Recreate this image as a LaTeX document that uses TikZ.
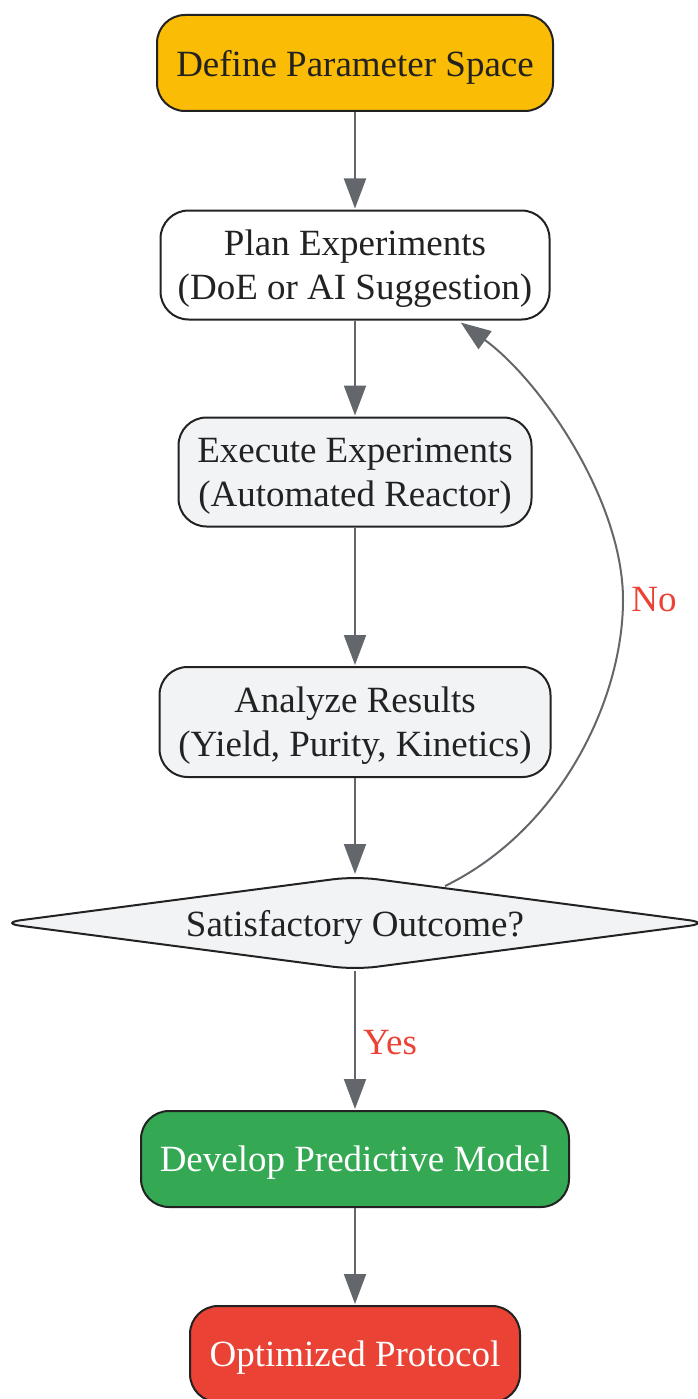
\documentclass[tikz,border=0pt]{standalone}
\usepackage{fontspec}
\setmainfont{Liberation Serif}
\usetikzlibrary{arrows.meta,shapes.geometric}
\definecolor{cyellow}{HTML}{FBBC05}
\definecolor{cgreen}{HTML}{34A853}
\definecolor{cred}{HTML}{EA4335}
\definecolor{cgray}{HTML}{F1F3F5}
\definecolor{cline}{HTML}{63666A}
\definecolor{cborder}{HTML}{222222}
\definecolor{ctext}{HTML}{222222}
\tikzset{
  box/.style={draw=cborder, line width=2pt, rounded corners=28pt, inner sep=0pt,
    align=center, text=ctext, text depth=-3pt, font=\fontsize{37}{44}\selectfont},
  flow/.style={draw=cline, line width=2pt, -{Triangle[length=30pt,width=22pt]}, shorten >=1pt},
  lbl/.style={text=cred, font=\fontsize{37}{44}\selectfont, inner sep=0pt}
}
\begin{document}
\begin{tikzpicture}[x=1pt,y=-1pt]
\useasboundingbox (0,0) rectangle (698,1399);
\node[box, fill=cyellow, minimum width=396pt, minimum height=96pt] (n1) at (355,63) {Define Parameter Space};
\node[box, fill=white, minimum width=389pt, minimum height=109pt] (n2) at (355,265) {Plan Experiments\\(DoE or AI Suggestion)};
\node[box, fill=cgray, minimum width=353pt, minimum height=109pt] (n3) at (355,472) {Execute Experiments\\(Automated Reactor)};
\node[box, fill=cgray, minimum width=391pt, minimum height=110pt] (n4) at (355,722) {Analyze Results\\(Yield, Purity, Kinetics)};
\node[box, shape=diamond, aspect=7.6, rounded corners=22pt, fill=cgray, minimum width=712pt, minimum height=94pt] (d) at (355,923) {Satisfactory Outcome?};
\node[box, fill=cgreen, text=white, minimum width=428pt, minimum height=96pt] (n6) at (355,1159) {Develop Predictive Model};
\node[box, fill=cred, text=white, minimum width=330pt, minimum height=96pt] (n7) at (355,1354) {Optimized Protocol};
\coordinate (s) at (445,886);
\coordinate (m) at (623,600);
\coordinate (t) at (460,322);
\draw[flow] (n1) -- (n2);
\draw[flow] (n2) -- (n3);
\draw[flow] (n3) -- (n4);
\draw[flow] (n4) -- (d);
\draw[flow] (d) -- (n6);
\draw[flow] (n6) -- (n7);
\draw[flow] (s) .. controls (560,830) and (623,700) .. (m) .. controls (623,500) and (540,380) .. (t);
\node[lbl] (no) at (654,600) {No};
\node[lbl] (yes) at (390,1043) {Yes};
\end{tikzpicture}
\end{document}
